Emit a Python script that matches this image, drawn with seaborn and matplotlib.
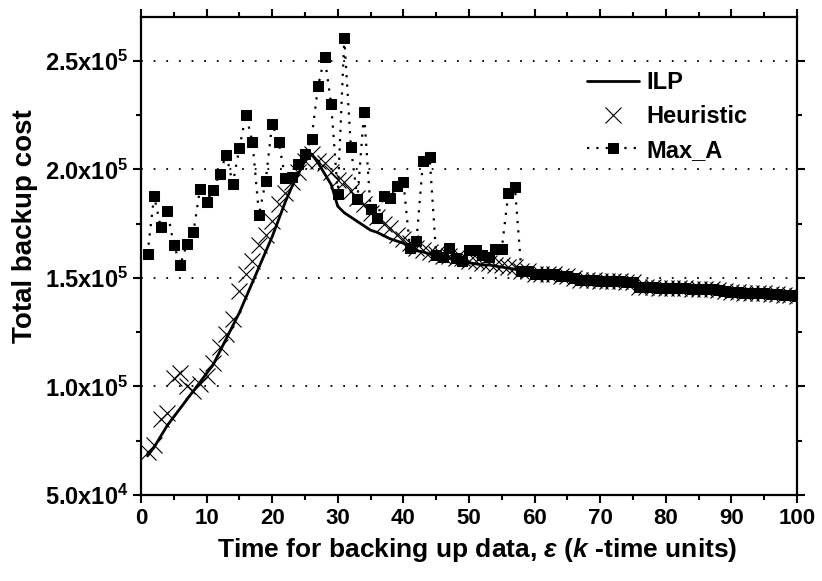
import numpy as np
import pandas as pd
import seaborn as sns
import matplotlib.pyplot as plt
from matplotlib.ticker import MultipleLocator, FuncFormatter

# values in thousands
eps = list(range(1, 101))

ilp = [68, 72, 77, 82, 86, 90, 94, 98, 102, 106,
       110, 116, 122, 128, 134, 141, 148, 155, 162, 169,
       177, 185, 192, 198, 204, 207, 203, 198, 193, 183,
       180, 178, 176, 174, 172, 171, 169.5, 168, 167, 166,
       164, 162.5, 162, 161, 160, 159.5, 159, 158, 157.5, 157,
       156.5, 156, 156, 155.5, 155, 154.5, 154, 153, 153, 152,
       152, 152, 152, 151, 151, 150, 149, 149, 149, 148.5,
       148.5, 148.5, 148.5, 148, 148, 146, 146, 146, 145.5, 145.5,
       145.5, 145.5, 145.5, 145, 145, 145, 145, 144.5, 144, 143.5,
       143.5, 143, 143, 143, 143, 142.5, 142.5, 142, 142, 141.5]

heuristic = [70, 73, 85, 88, 104, 106, 100, 98, 101, 105,
             111, 118, 124, 131, 144, 152, 158, 165, 170, 176,
             184, 189, 194, 199, 204, 207, 204, 203, 199, 195,
             194, 190, 187, 184, 180, 178, 175, 173, 170, 168,
             166, 164, 163, 162, 161, 160, 160, 159, 159, 158,
             158, 157, 157, 156, 156, 155, 155, 153, 153, 152,
             152, 152, 152, 151, 151, 150, 149, 149, 149, 148.5,
             148.5, 148.5, 148.5, 148, 148, 146, 146, 146, 145.5, 145.5,
             145.5, 145.5, 145.5, 145, 145, 145, 145, 144.5, 144, 143.5,
             143.5, 143, 143, 143, 143, 142.5, 142.5, 142, 142, 141.5]

max_a = [161, 187.8, 173.5, 181, 165.3, 156.1, 165.7, 171.2, 191, 185.2,
         190.5, 198, 206.8, 193.4, 209.8, 225.2, 212.6, 179, 194.5, 221,
         212.5, 196, 196.5, 202.5, 207.1, 214.2, 238.5, 251.7, 230, 188.7,
         260.4, 210.2, 186.4, 226.3, 181.8, 177.5, 187.9, 186.7, 192.4, 194.4,
         164, 167.2, 203.9, 205.9, 160.6, 159.8, 163.7, 159, 158, 163,
         163, 160.6, 159.8, 163.3, 163.3, 189, 192, 153, 153, 152,
         152, 152, 152, 151, 151, 150, 149, 149, 149, 148.5,
         148.5, 148.5, 148.5, 148, 148, 146, 146, 146, 145.5, 145.5,
         145.5, 145.5, 145.5, 145, 145, 145, 145, 144.5, 144, 143.5,
         143.5, 143, 143, 143, 143, 142.5, 142.5, 142, 142, 141.5]

df = pd.DataFrame({'eps': eps,
                   'ILP': np.array(ilp) * 1000,
                   'Heuristic': np.array(heuristic) * 1000,
                   'Max_A': np.array(max_a) * 1000})

sns.set_style('ticks')
plt.rcParams['font.family'] = ['Liberation Sans', 'DejaVu Sans']
plt.rcParams['font.weight'] = 'bold'
plt.rcParams['mathtext.fontset'] = 'custom'
plt.rcParams['mathtext.rm'] = 'Liberation Sans:bold'
plt.rcParams['mathtext.bf'] = 'Liberation Sans:bold'
plt.rcParams['mathtext.it'] = 'Liberation Sans:italic:bold'
for k in ['text.color', 'axes.labelcolor', 'xtick.color', 'ytick.color', 'axes.edgecolor']:
    plt.rcParams[k] = 'black'

fig = plt.figure(figsize=(8.22, 5.81), dpi=100)
ax = fig.add_axes([0.1715, 0.148, 0.798, 0.822])

sns.lineplot(data=df, x='eps', y='ILP', ax=ax, color='black', lw=2, label='ILP')
sns.lineplot(data=df, x='eps', y='Heuristic', ax=ax, color='black', linestyle='none',
             marker='x', markersize=12, markeredgewidth=0.8, markeredgecolor='black',
             label='Heuristic')
sns.lineplot(data=df, x='eps', y='Max_A', ax=ax, color='black', linestyle=(0, (1, 3.2)),
             lw=1.6, marker='s', markersize=7, markeredgecolor='black', label='Max_A')

ax.set_xlim(0, 100)
ax.set_ylim(50000, 270000)
ax.xaxis.set_major_locator(MultipleLocator(10))
ax.xaxis.set_minor_locator(MultipleLocator(5))
ax.yaxis.set_major_locator(MultipleLocator(50000))
ax.yaxis.set_minor_locator(MultipleLocator(25000))

def sci(v, pos):
    if v <= 0:
        return ''
    e = int(np.floor(np.log10(v)))
    return '%.1fx10$^{%d}$' % (v / 10**e, e)
ax.yaxis.set_major_formatter(FuncFormatter(sci))

for yv in [100000, 150000, 200000, 250000]:
    ax.axhline(yv, color='black', lw=1.3, linestyle=(0, (1, 6)), zorder=0)

ax.tick_params(which='both', direction='out', width=1.5, top=True, right=True, pad=3)
ax.tick_params(axis='x', labelsize=16)
ax.tick_params(axis='y', labelsize=17)
ax.tick_params(which='major', length=6)
ax.tick_params(which='minor', length=3.5)
for s in ax.spines.values():
    s.set_linewidth(1.6)

ax.set_xlabel(r'Time for backing up data, $\varepsilon$ ($k$ -time units)', fontsize=19,
              fontweight='bold')
ax.set_ylabel('Total backup cost', fontsize=20, fontweight='bold')
ax.xaxis.set_label_coords(0.513, -0.085)
ax.yaxis.set_label_coords(-0.157, 0.563)

ax.legend(loc='upper left', bbox_to_anchor=(0.68, 0.887), frameon=False, fontsize=17,
          labelspacing=0.45, handlelength=2.2, handletextpad=0.3, numpoints=1,
          borderpad=0, borderaxespad=0)

plt.savefig('out.png', dpi=100)
